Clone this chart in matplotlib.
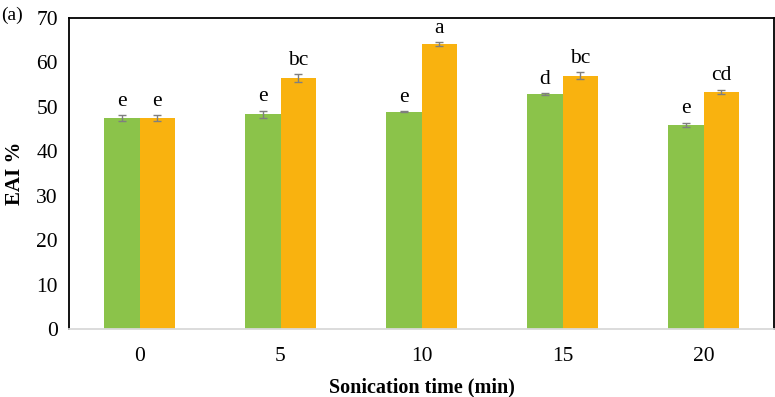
import numpy as np
import matplotlib.pyplot as plt

plt.rcParams['font.family'] = ['Liberation Serif', 'DejaVu Serif']

times = ['0', '5', '10', '15', '20']
eai_green = [47.5, 48.3, 48.9, 52.9, 45.9]
err_green = [0.6, 0.8, 0.15, 0.15, 0.5]
eai_orange = [47.5, 56.5, 64.2, 57.0, 53.4]
err_orange = [0.6, 0.9, 0.4, 0.8, 0.5]
lab_green = ['e', 'e', 'e', 'd', 'e']
lab_orange = ['e', 'bc', 'a', 'bc', 'cd']

fig = plt.figure(figsize=(7.75, 3.97), dpi=100)
ax = fig.add_axes([69 / 775, 1 - 329 / 397, (774 - 69) / 775, (329 - 18) / 397])

x = np.arange(len(times))
w = 0.25
ekw = dict(ecolor='#7f7f7f', elinewidth=1, capsize=3, capthick=1)
ax.bar(x - w / 2, eai_green, w, yerr=err_green, color='#8bc34a', error_kw=ekw)
ax.bar(x + w / 2, eai_orange, w, yerr=err_orange, color='#f9b20f', error_kw=ekw)

for i in range(len(times)):
    ax.text(x[i] - w / 2, eai_green[i] + err_green[i] + 1.0, lab_green[i],
            ha='center', va='bottom', fontsize=15.5)
    ax.text(x[i] + w / 2, eai_orange[i] + err_orange[i] + 1.0, lab_orange[i],
            ha='center', va='bottom', fontsize=15.5)

ax.set_xlim(-0.5, 4.5)
ax.set_ylim(0, 70)
ax.set_yticks(range(0, 71, 10))
ax.set_xticks(x)
ax.set_xticklabels(times)
ax.tick_params(length=0, labelsize=15.5, pad=8)
ax.tick_params(axis='x', pad=13)
for s in ['left', 'top', 'right']:
    ax.spines[s].set_color('black')
    ax.spines[s].set_linewidth(1.3)
ax.spines['bottom'].set_color('#d9d9d9')
ax.spines['bottom'].set_linewidth(1.3)

ax.set_xlabel('Sonication time (min)', fontsize=14.5, fontweight='bold', labelpad=8)
ax.set_ylabel('EAI %', fontsize=15, fontweight='bold', labelpad=8)
fig.text(0.001, 1 - 15 / 397, '(a)', fontsize=14, ha='left', va='center')

fig.savefig('out.png', dpi=100)
